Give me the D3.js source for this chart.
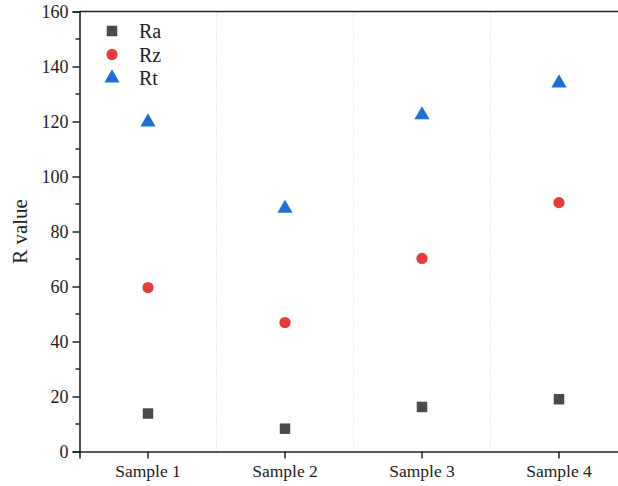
<!DOCTYPE html>
<html><head><meta charset="utf-8">
<script src="https://cdn.jsdelivr.net/npm/d3@7"></script>
<style>body{margin:0;background:#fff}svg{display:block}</style>
</head><body>
<svg id="c" width="618" height="486"></svg>
<script>
const categories = ["Sample 1","Sample 2","Sample 3","Sample 4"];
const raValues = [13.8, 8.3, 16.2, 19.0];
const rzValues = [59.6, 46.9, 70.2, 90.5];
const rtValues = [119.8, 88.4, 122.4, 134.0];
const yTicks = [0,20,40,60,80,100,120,140,160];
const seriesNames = ["Ra","Rz","Rt"];

const svg = d3.select("#c");
const m = {l:79.5, t:11.5, r:627.5, b:451.5};
const x = d3.scaleBand().domain(categories).range([m.l, m.r]);
const y = d3.scaleLinear().domain([0,160]).range([m.b, m.t]);
const font = "'Liberation Serif', 'Times New Roman', serif";

// dotted grid lines between categories
svg.append("g").selectAll("line").data(categories.slice(1)).join("line")
  .attr("x1", d=>x(d)).attr("x2", d=>x(d)).attr("y1", m.t).attr("y2", m.b)
  .attr("stroke", "#d8d8d8").attr("stroke-width", 1).attr("stroke-dasharray", "1,2");

// Y axis
const yAxis = d3.axisLeft(y).tickValues(yTicks).tickSize(7).tickPadding(4);
const gy = svg.append("g").attr("transform", `translate(${m.l},0)`).call(yAxis);
gy.select(".domain").attr("stroke", "#222").attr("stroke-width", 1.6);
gy.selectAll(".tick line").attr("stroke", "#222").attr("stroke-width", 1.5);
gy.selectAll("text").attr("font-family", font).attr("font-size", 18).attr("fill", "#222");
// minor ticks
const minor = d3.range(10, 160, 20);
svg.append("g").selectAll("line").data(minor).join("line")
  .attr("x1", m.l-4).attr("x2", m.l).attr("y1", d=>y(d)).attr("y2", d=>y(d))
  .attr("stroke", "#222").attr("stroke-width", 1.5);

// X axis
const xAxis = d3.axisBottom(x).tickSize(7).tickPadding(6);
const gx = svg.append("g").attr("transform", `translate(0,${m.b})`).call(xAxis);
gx.select(".domain").attr("stroke", "#222").attr("stroke-width", 1.6);
gx.selectAll(".tick line").attr("stroke", "#222").attr("stroke-width", 1.5);
gx.selectAll("text").attr("font-family", font).attr("font-size", 17.5).attr("fill", "#222");

// top frame
svg.append("line").attr("x1", m.l).attr("x2", m.r).attr("y1", m.t).attr("y2", m.t)
  .attr("stroke", "#222").attr("stroke-width", 1.6);

// axis title
svg.append("text").attr("transform", `translate(27,${(m.t+m.b)/2}) rotate(-90)`)
  .attr("text-anchor", "middle").attr("font-family", font).attr("font-size", 21)
  .attr("fill", "#222").text("R value");

const colors = {Ra:"#4a4a4a", Rz:"#e83a3c", Rt:"#1f6ed6"};
const shapes = {Ra:d3.symbolSquare, Rz:d3.symbolCircle, Rt:d3.symbolTriangle};
const sizes = {Ra:110, Rz:100, Rt:100};
const data = {Ra:raValues, Rz:rzValues, Rt:rtValues};

seriesNames.forEach(s => {
  svg.append("g").selectAll("path").data(categories).join("path")
    .attr("transform", (d,i)=>`translate(${x(d)+x.bandwidth()/2},${y(data[s][i])})`)
    .attr("d", d3.symbol().type(shapes[s]).size(sizes[s])())
    .attr("fill", colors[s]);
});

// legend
const lg = svg.append("g");
seriesNames.forEach((s,i) => {
  const yy = 31 + i*23.5;
  lg.append("path").attr("transform", `translate(112,${yy})`)
    .attr("d", d3.symbol().type(shapes[s]).size(sizes[s])()).attr("fill", colors[s]);
  lg.append("text").attr("x", 139).attr("y", yy+7).attr("font-family", font)
    .attr("font-size", 20).attr("fill", "#222").text(s);
});
</script>
</body></html>
